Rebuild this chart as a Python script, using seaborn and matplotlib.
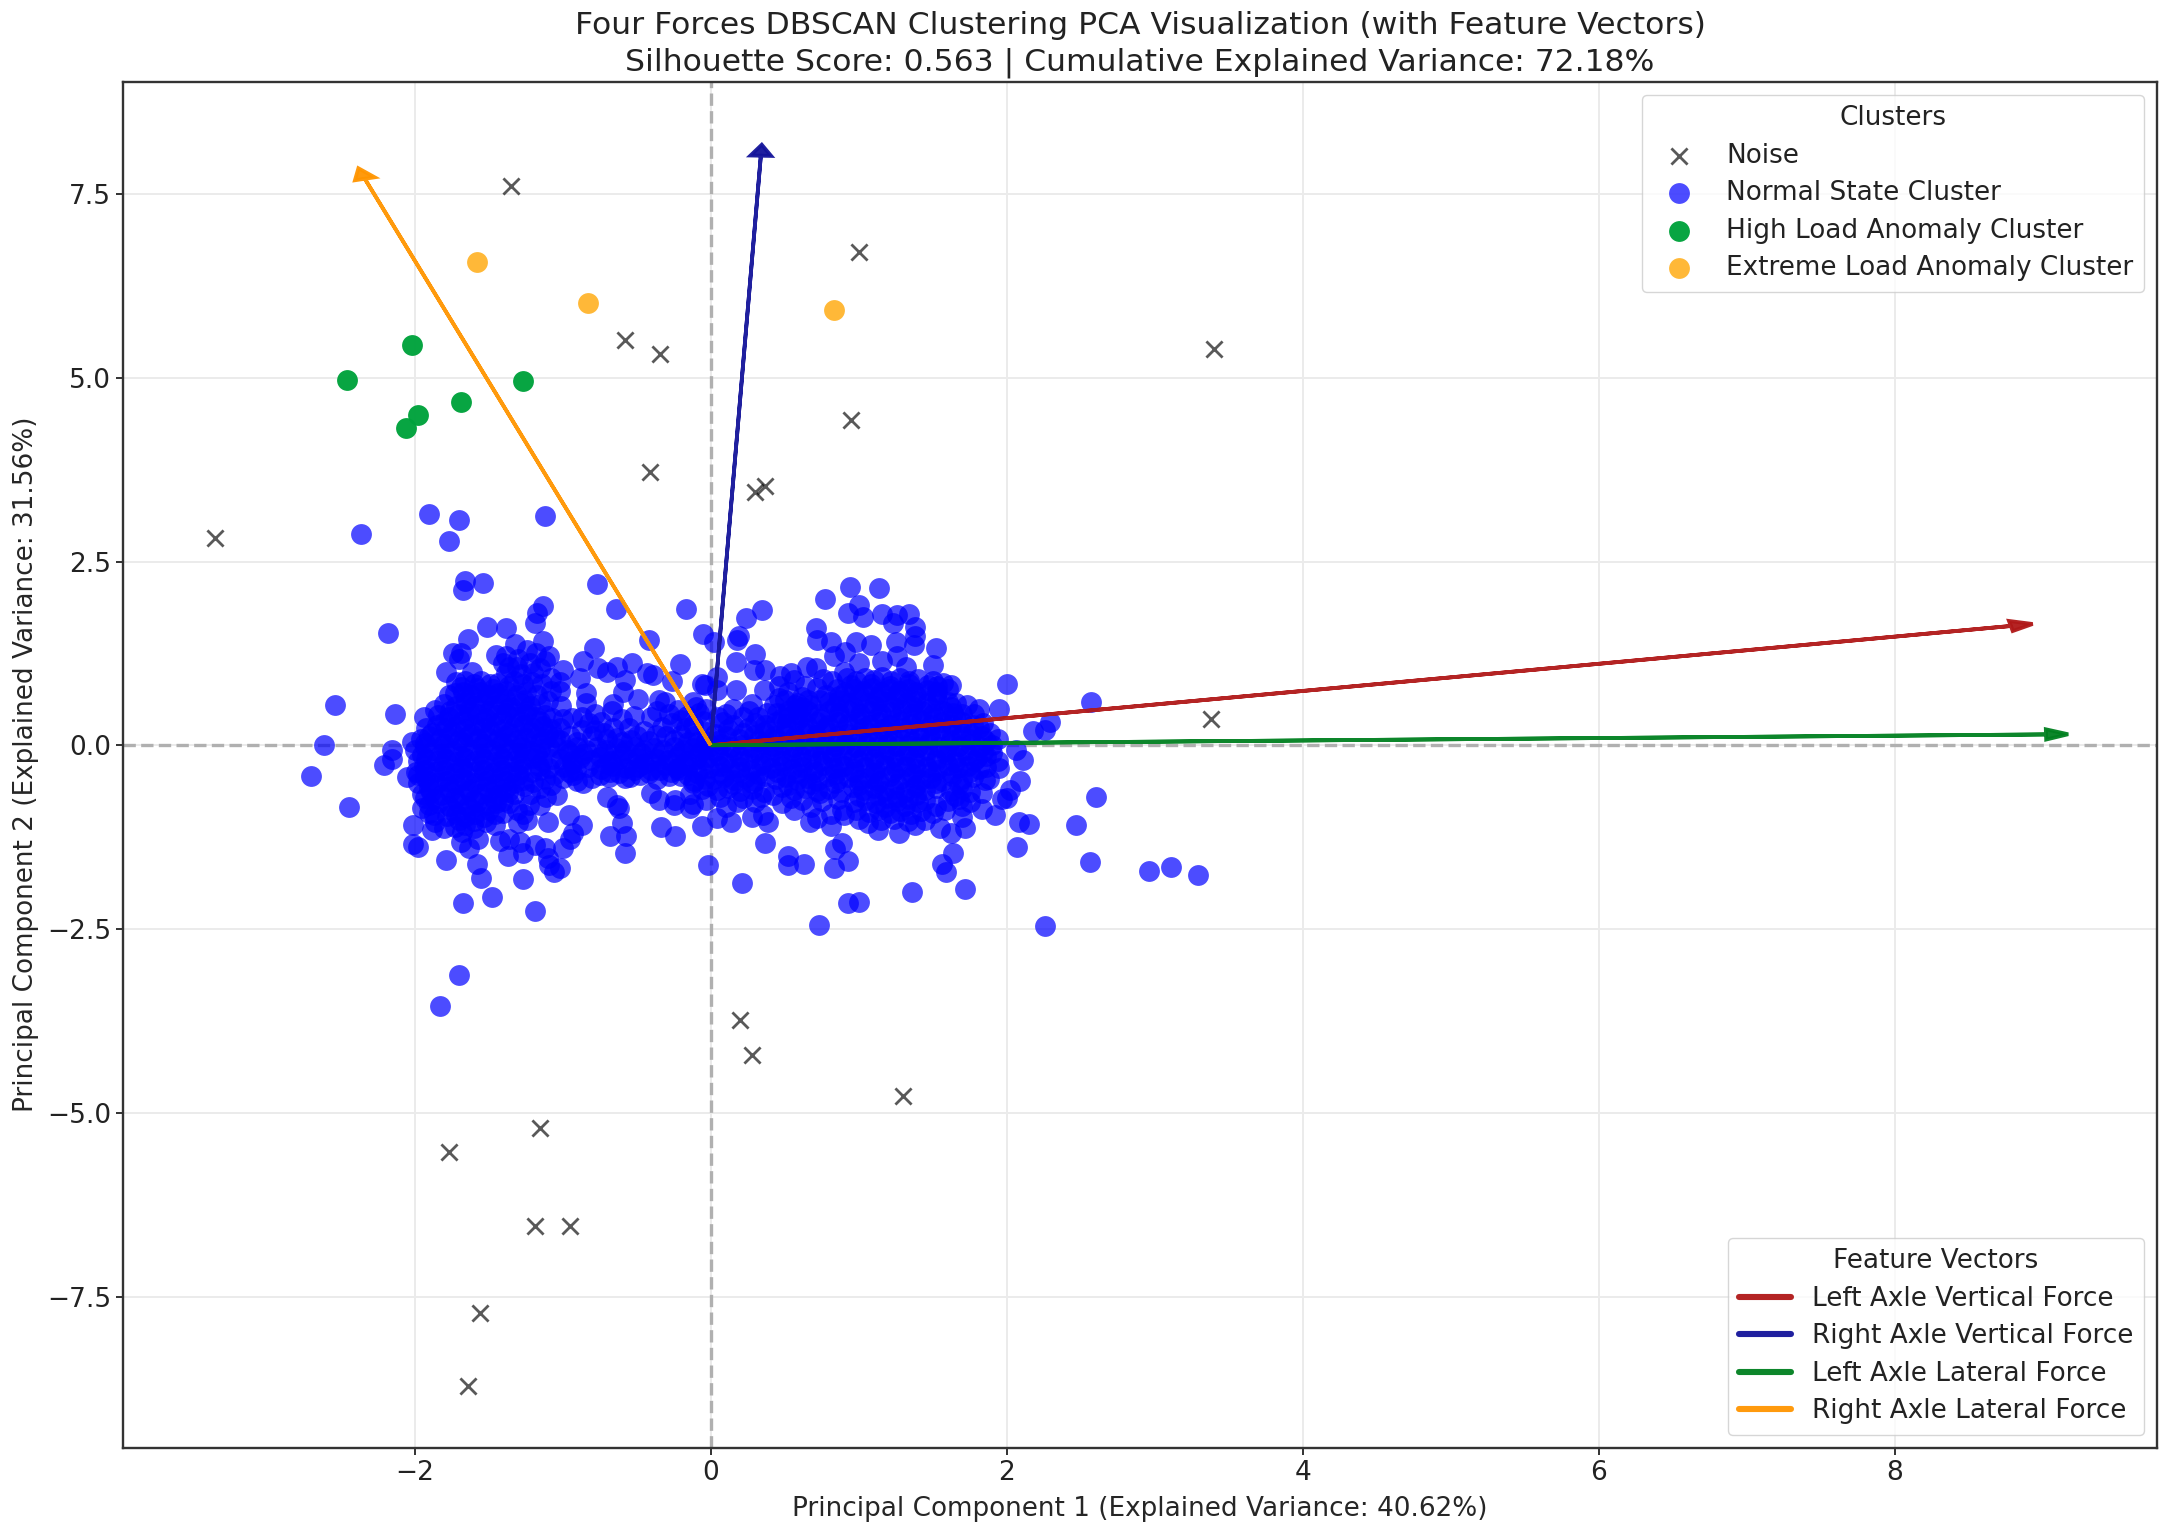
import matplotlib
matplotlib.use("Agg")
import matplotlib.pyplot as plt
from matplotlib.lines import Line2D
import numpy as np
import seaborn as sns

# Values (PC1, PC2).
noise_points = [
    (-3.35, 2.82), (-1.35, 7.61), (1.00, 6.71), (-0.58, 5.51), (-0.345, 5.32), (0.95, 4.42),
    (3.40, 5.39), (-0.41, 3.72), (0.37, 3.53), (0.30, 3.44), (3.38, 0.36), (0.20, -3.74),
    (0.28, -4.21), (1.30, -4.77), (-1.15, -5.21), (-1.77, -5.53), (-1.19, -6.54), (-0.95, -6.54),
    (-1.56, -7.73), (-1.64, -8.72),
]
high_load_points = [(-2.46, 4.97), (-2.02, 5.45), (-1.27, 4.95), (-1.69, 4.67), (-1.98, 4.49), (-2.06, 4.31)]
extreme_load_points = [(-1.58, 6.58), (-0.83, 6.02), (0.83, 5.92)]

# Normal cluster: scattered points on the left side
normal_left_edge = [
    (-2.36, 2.88), (-1.90, 3.14), (-1.70, 3.07), (-1.77, 2.78), (-1.12, 3.12), (-2.18, 1.53),
    (-1.66, 2.23), (-1.67, 2.11), (-1.54, 2.21), (-0.77, 2.20), (-0.64, 1.85), (-0.17, 1.86),
    (-1.135, 1.89), (-1.175, 1.80), (-1.19, 1.67), (-1.51, 1.61), (-1.38, 1.59), (-1.64, 1.44),
    (-1.74, 1.26), (-1.69, 1.25), (-1.70, 1.18), (-0.42, 1.43), (-0.05, 1.52), (0.02, 1.41),
    (-1.13, 1.42), (-1.32, 1.38), (-0.79, 1.33), (-0.86, 1.15), (-0.21, 1.10), (-2.54, 0.55),
    (-2.13, 0.42), (-2.61, 0.00), (-2.70, -0.42), (-2.44, -0.84), (-2.155, -0.07), (-2.15, -0.18),
    (-2.21, -0.27), (-2.05, -0.43), (-2.02, 0.05), (-1.94, 0.38), (-1.86, 0.48), (-1.79, 0.99),
    (-1.61, 0.99), (-1.77, 0.69), (-1.45, 1.23), (-1.38, 1.21), (-1.09, 1.22), (-1.24, 1.30),
    (-1.18, 1.25), (-1.31, 1.07), (-1.36, 1.07), (-1.00, 1.02), (-1.02, 0.74), (-1.01, 0.53),
    (-0.94, 0.37), (-0.88, 0.91), (-0.76, 1.05), (-0.70, 1.00), (-0.635, 1.07), (-0.53, 1.12),
    (-0.58, 0.89), (-0.59, 0.73), (-0.43, 0.98), (-0.39, 0.96), (-0.26, 0.87), (-0.06, 0.83),
    (-0.49, 0.63), (-0.84, 0.71), (-0.84, 0.57), (-0.66, 0.56), (-0.67, 0.46), (-0.35, 0.62),
    (-0.31, 0.59), (-0.12, 0.59), (-0.22, 0.48), (-0.08, 0.44), (-0.55, 0.23), (-0.50, 0.12),
    (-0.45, 0.19), (-0.74, 0.32), (-0.87, 0.21), (-1.02, 0.23), (-1.07, 0.37), (-0.33, 0.25),
    (-0.26, 0.30), (-0.17, 0.23), (-0.30, 0.12), (-0.20, 0.35), (-0.12, 0.28), (-0.05, 0.33),
    (-0.03, 0.18), (-0.11, 0.12), (-0.87, 0.38), (-0.80, 0.12), (-0.70, 0.08), (-0.63, 0.10),
    (-0.70, -0.70), (-0.635, -0.81), (-0.62, -0.86), (-0.60, -1.06), (-0.68, -1.24), (-0.57, -1.24),
    (-0.58, -1.47), (-0.40, -0.65), (-0.35, -0.74), (-0.25, -0.81), (-0.24, -0.74), (-0.14, -0.86),
    (-0.12, -0.80), (-0.335, -1.11), (-0.24, -1.24), (-0.06, -1.10), (-0.02, -1.63), (-0.69, -0.43),
    (-0.545, -0.43), (-0.34, -0.34), (-0.27, -0.36), (-0.86, -0.52), (-0.09, -0.38), (-1.04, -0.68),
    (-1.11, -0.70), (-1.15, -0.81), (-1.23, -0.81), (-1.27, -0.93), (-1.24, -1.02), (-1.30, -1.06),
    (-1.10, -1.05), (-0.955, -0.95), (-0.87, -1.09), (-0.93, -1.20), (-0.95, -1.27), (-1.42, -1.30),
    (-1.36, -1.27), (-1.29, -1.31), (-1.37, -1.51), (-1.27, -1.46), (-1.19, -1.36), (-1.12, -1.40),
    (-1.10, -1.54), (-1.09, -1.63), (-1.02, -1.67), (-1.06, -1.72), (-1.00, -1.40), (-1.27, -1.82),
    (-1.79, -1.56), (-1.58, -1.61), (-1.55, -1.81), (-1.67, -2.15), (-1.48, -2.06), (-1.19, -2.26),
    (-1.57, -1.27), (-1.69, -1.31), (-1.63, -1.40), (-2.01, -1.09), (-2.01, -1.34), (-1.98, -1.39),
    (-1.885, -1.15), (-1.70, -3.12), (-1.83, -3.55), (-1.06, -0.40), (-1.00, -0.45), (-0.93, -0.40),
    (-0.80, -0.45), (-0.62, -0.38), (-0.48, -0.40), (-0.20, -0.42), (-0.03, -0.75), (-0.02, -0.55),
]

# Normal cluster: scattered points on the right side
normal_right_edge = [
    (0.94, 2.15), (1.14, 2.14), (0.77, 1.99), (0.345, 1.84), (0.24, 1.73), (1.00, 1.91),
    (0.93, 1.80), (1.03, 1.75), (1.16, 1.79), (1.26, 1.77), (1.34, 1.79), (1.23, 1.66),
    (1.38, 1.61), (1.38, 1.48), (1.37, 1.37), (1.52, 1.33), (1.50, 1.09), (1.25, 1.41),
    (1.08, 1.37), (0.98, 1.41), (0.71, 1.59), (0.72, 1.43), (0.81, 1.41), (0.835, 1.21),
    (0.91, 1.27), (0.19, 1.48), (0.175, 1.43), (0.30, 1.24), (0.17, 1.13),
    (0.29, 1.03), (0.37, 1.02), (0.17, 0.75), (0.36, 0.75), (0.04, 0.93), (-0.04, 0.82),
    (0.04, 0.75), (0.47, 0.94), (0.54, 0.98), (0.56, 0.89), (0.65, 1.07), (0.71, 1.05),
    (0.64, 0.80), (0.72, 0.78), (0.90, 1.00), (1.00, 1.12), (1.16, 1.14), (1.26, 1.21),
    (1.32, 1.07), (0.15, 0.50), (0.22, 0.39), (0.46, 0.64), (0.43, 0.55), (0.57, 0.55),
    (0.38, 0.44), (1.62, 0.82), (1.53, 0.80), (1.73, 0.55), (1.81, 0.50), (1.95, 0.50),
    (2.00, 0.83), (2.57, 0.585), (2.29, 0.31), (2.26, 0.21), (2.18, 0.19), (2.06, -0.06),
    (2.11, -0.20), (1.95, -0.31), (1.94, -0.22), (2.09, -0.48), (2.02, -0.61), (2.00, -0.72),
    (1.97, -0.73), (1.83, -0.65), (1.83, -0.87), (1.92, -0.95), (2.08, -1.04), (2.15, -1.07),
    (2.47, -1.09), (2.60, -0.71), (2.07, -1.38), (2.56, -1.59), (2.96, -1.71), (3.11, -1.65),
    (3.29, -1.77), (2.26, -2.46), (1.72, -1.96), (1.36, -2.00), (1.00, -2.13), (0.93, -2.14),
    (0.73, -2.45), (0.21, -1.87), (1.635, -1.47), (1.56, -1.61), (1.59, -1.72),
    (1.62, -1.20), (1.55, -1.13), (1.72, -1.13), (1.70, -0.97), (1.70, -0.83), (0.885, -1.33),
    (0.84, -1.41), (0.93, -1.58), (0.83, -1.67), (0.63, -1.61), (0.52, -1.51), (0.525, -1.63),
    (0.37, -1.33), (1.27, -1.20), (1.13, -1.15), (1.065, -1.06), (1.38, -1.08), (1.45, -1.02),
    (0.81, -1.10), (0.67, -1.04), (0.72, -0.99), (0.81, -0.93), (0.885, -0.88), (0.56, -0.88),
    (0.355, -0.95), (0.39, -1.04), (0.28, -0.97), (0.14, -1.04), (0.04, -0.99),
    (0.42, -0.68), (0.54, -0.72), (0.74, -0.65), (0.30, -0.77), (0.18, -0.77), (0.06, -0.70),
]

# Normal cluster: dense core around PC1 = -1.5
normal_left_core = [
    (-1.72, 0.86), (-1.66, 0.88), (-1.60, 0.84), (-1.55, 0.87), (-1.49, 0.83), (-1.44, 0.85),
    (-1.33, 0.88), (-1.27, 0.83), (-1.21, 0.86), (-1.73, 0.71), (-1.67, 0.73), (-1.62, 0.68),
    (-1.56, 0.72), (-1.50, 0.69), (-1.44, 0.71), (-1.38, 0.74), (-1.31, 0.69), (-1.25, 0.72),
    (-1.17, 0.68), (-1.80, 0.56), (-1.72, 0.53), (-1.66, 0.57), (-1.60, 0.54), (-1.54, 0.58),
    (-1.47, 0.53), (-1.41, 0.56), (-1.35, 0.52), (-1.28, 0.57), (-1.22, 0.54), (-1.15, 0.56),
    (-1.84, 0.41), (-1.77, 0.38), (-1.71, 0.43), (-1.64, 0.39), (-1.58, 0.42), (-1.52, 0.37),
    (-1.45, 0.41), (-1.38, 0.44), (-1.32, 0.38), (-1.25, 0.42), (-1.18, 0.39), (-1.12, 0.41),
    (-1.92, 0.24), (-1.85, 0.27), (-1.79, 0.23), (-1.72, 0.26), (-1.66, 0.22), (-1.59, 0.28),
    (-1.53, 0.24), (-1.46, 0.27), (-1.40, 0.22), (-1.33, 0.25), (-1.27, 0.28), (-1.20, 0.23),
    (-1.13, 0.26), (-1.08, 0.22), (-1.96, 0.09), (-1.90, 0.12), (-1.83, 0.08), (-1.77, 0.11),
    (-1.70, 0.07), (-1.64, 0.13), (-1.57, 0.09), (-1.51, 0.11), (-1.44, 0.08), (-1.38, 0.12),
    (-1.31, 0.07), (-1.25, 0.10), (-1.18, 0.13), (-1.12, 0.08), (-1.05, 0.11), (-2.00, -0.06),
    (-1.93, -0.03), (-1.87, -0.07), (-1.80, -0.04), (-1.74, -0.08), (-1.67, -0.03), (-1.61, -0.06),
    (-1.54, -0.02), (-1.48, -0.07), (-1.41, -0.04), (-1.35, -0.06), (-1.28, -0.03), (-1.22, -0.08),
    (-1.15, -0.05), (-1.09, -0.03), (-1.98, -0.21), (-1.92, -0.18), (-1.85, -0.22), (-1.79, -0.19),
    (-1.72, -0.23), (-1.66, -0.17), (-1.59, -0.21), (-1.53, -0.19), (-1.46, -0.23), (-1.40, -0.18),
    (-1.33, -0.22), (-1.27, -0.20), (-1.20, -0.17), (-1.14, -0.22), (-1.07, -0.19), (-1.99, -0.36),
    (-1.93, -0.33), (-1.86, -0.37), (-1.80, -0.34), (-1.73, -0.38), (-1.67, -0.32), (-1.60, -0.36),
    (-1.54, -0.34), (-1.47, -0.38), (-1.41, -0.33), (-1.34, -0.36), (-1.28, -0.32), (-1.21, -0.37),
    (-1.15, -0.34), (-1.09, -0.31), (-1.98, -0.51), (-1.91, -0.48), (-1.85, -0.52), (-1.78, -0.49),
    (-1.72, -0.53), (-1.65, -0.47), (-1.59, -0.51), (-1.52, -0.49), (-1.46, -0.53), (-1.39, -0.48),
    (-1.33, -0.51), (-1.27, -0.47), (-1.95, -0.66), (-1.89, -0.63), (-1.82, -0.67), (-1.76, -0.64),
    (-1.69, -0.68), (-1.63, -0.62), (-1.56, -0.66), (-1.50, -0.64), (-1.44, -0.68), (-1.37, -0.63),
    (-1.33, -0.66), (-1.90, -0.81), (-1.84, -0.78), (-1.77, -0.82), (-1.71, -0.79), (-1.64, -0.83),
    (-1.58, -0.77), (-1.51, -0.81), (-1.45, -0.79), (-1.40, -0.76), (-1.87, -0.95), (-1.78, -0.96),
    (-1.72, -0.93), (-1.66, -0.97), (-1.59, -0.94), (-1.53, -0.98), (-1.46, -0.93), (-1.73, -1.11),
    (-1.66, -1.08), (-1.60, -1.12), (-1.68, -1.18),
]

# Normal cluster: band joining the two dense groups
normal_middle_band = [
    (-1.03, -0.04), (-0.97, -0.07), (-0.90, -0.03), (-0.84, -0.06), (-0.77, -0.02), (-0.71, -0.07),
    (-0.64, -0.04), (-0.58, -0.06), (-0.51, -0.03), (-0.45, -0.07), (-0.38, -0.04), (-0.32, -0.06),
    (-0.25, -0.02), (-0.19, -0.07), (-0.12, -0.04), (-0.06, -0.06), (-1.01, -0.18), (-0.94, -0.21),
    (-0.88, -0.17), (-0.81, -0.20), (-0.75, -0.16), (-0.68, -0.21), (-0.62, -0.18), (-0.55, -0.20),
    (-0.49, -0.17), (-0.42, -0.21), (-0.36, -0.18), (-0.29, -0.20), (-0.23, -0.16), (-0.16, -0.21),
    (-0.10, -0.18), (-0.04, -0.20), (-0.99, -0.30), (-0.91, -0.33), (-0.83, -0.29), (-0.74, -0.32),
    (-0.66, -0.28), (-0.57, -0.31), (-0.49, -0.29), (-0.40, -0.33), (-0.31, -0.27), (-0.23, -0.31),
    (-0.15, -0.28), (-0.07, -0.32), (-0.04, -0.46), (-0.11, -0.49), (-0.03, 0.06), (-0.09, 0.04),
    (-0.96, -0.11), (-0.86, -0.12), (-0.73, -0.10), (-0.60, -0.12), (-0.47, -0.11), (-0.34, -0.13),
    (-0.21, -0.10), (-0.08, -0.12), (-0.94, -0.26), (-0.70, -0.25), (-0.45, -0.26), (-0.19, -0.25),
]

# Normal cluster: dense core around PC1 = 1
normal_right_core = [
    (0.92, 0.91), (0.98, 0.88), (1.04, 0.92), (1.10, 0.89), (1.16, 0.93), (1.22, 0.87),
    (1.28, 0.91), (1.34, 0.88), (1.40, 0.90), (1.50, 0.88), (1.57, 0.85), (0.85, 0.76),
    (0.91, 0.73), (0.97, 0.77), (1.03, 0.74), (1.09, 0.78), (1.15, 0.72), (1.21, 0.76),
    (1.27, 0.74), (1.33, 0.77), (1.39, 0.73), (1.46, 0.75), (1.53, 0.72), (1.60, 0.76),
    (0.50, 0.61), (0.58, 0.58), (0.66, 0.62), (0.80, 0.59), (0.87, 0.62), (0.93, 0.58),
    (1.00, 0.61), (1.06, 0.57), (1.13, 0.62), (1.19, 0.59), (1.26, 0.63), (1.32, 0.57),
    (1.39, 0.60), (1.46, 0.58), (1.53, 0.62), (1.60, 0.59), (1.66, 0.57), (0.45, 0.44),
    (0.52, 0.47), (0.59, 0.43), (0.66, 0.46), (0.73, 0.42), (0.80, 0.47), (0.87, 0.44),
    (0.94, 0.46), (1.01, 0.43), (1.08, 0.47), (1.15, 0.42), (1.22, 0.45), (1.29, 0.48),
    (1.36, 0.43), (1.43, 0.46), (1.50, 0.42), (1.57, 0.47), (1.64, 0.44), (1.70, 0.42),
    (0.08, 0.31), (0.15, 0.28), (0.30, 0.30), (0.37, 0.27), (0.44, 0.32), (0.51, 0.29),
    (0.58, 0.33), (0.65, 0.27), (0.72, 0.31), (0.79, 0.28), (0.86, 0.32), (0.93, 0.29),
    (1.00, 0.33), (1.07, 0.27), (1.14, 0.31), (1.21, 0.28), (1.28, 0.32), (1.35, 0.29),
    (1.42, 0.33), (1.49, 0.27), (1.56, 0.31), (1.63, 0.28), (1.70, 0.32), (1.77, 0.27),
    (1.84, 0.30), (0.03, 0.16), (0.10, 0.13), (0.22, 0.17), (0.29, 0.14), (0.36, 0.18),
    (0.43, 0.12), (0.50, 0.16), (0.57, 0.13), (0.64, 0.17), (0.71, 0.14), (0.78, 0.18),
    (0.85, 0.12), (0.92, 0.16), (0.99, 0.13), (1.06, 0.17), (1.13, 0.14), (1.20, 0.18),
    (1.27, 0.12), (1.34, 0.16), (1.41, 0.13), (1.48, 0.17), (1.55, 0.14), (1.62, 0.18),
    (1.69, 0.12), (1.76, 0.16), (1.83, 0.13), (1.89, 0.17), (0.00, -0.01), (0.07, 0.02),
    (0.14, -0.02), (0.21, 0.01), (0.28, -0.03), (0.35, 0.02), (0.42, -0.01), (0.49, 0.01),
    (0.56, -0.02), (0.63, 0.02), (0.70, -0.03), (0.77, 0.01), (0.84, -0.01), (0.91, 0.02),
    (0.98, -0.02), (1.05, 0.01), (1.12, -0.03), (1.19, 0.02), (1.26, -0.01), (1.33, 0.01),
    (1.40, -0.02), (1.47, 0.02), (1.54, -0.03), (1.61, 0.01), (1.68, -0.01), (1.75, 0.02),
    (1.82, -0.02), (1.90, 0.01), (-0.02, -0.16), (0.05, -0.13), (0.12, -0.17), (0.19, -0.14),
    (0.26, -0.18), (0.33, -0.12), (0.40, -0.16), (0.47, -0.13), (0.54, -0.17), (0.61, -0.14),
    (0.68, -0.18), (0.75, -0.12), (0.82, -0.16), (0.89, -0.13), (0.96, -0.17), (1.03, -0.14),
    (1.10, -0.18), (1.17, -0.12), (1.24, -0.16), (1.31, -0.13), (1.38, -0.17), (1.45, -0.14),
    (1.52, -0.18), (1.59, -0.12), (1.66, -0.16), (1.73, -0.13), (1.80, -0.17), (1.86, -0.14),
    (-0.01, -0.31), (0.06, -0.28), (0.13, -0.32), (0.20, -0.29), (0.27, -0.33), (0.34, -0.27),
    (0.41, -0.31), (0.48, -0.28), (0.55, -0.32), (0.62, -0.29), (0.69, -0.33), (0.76, -0.27),
    (0.83, -0.31), (0.90, -0.28), (0.97, -0.32), (1.04, -0.29), (1.11, -0.33), (1.18, -0.27),
    (1.25, -0.31), (1.32, -0.28), (1.39, -0.32), (1.46, -0.29), (1.53, -0.33), (1.60, -0.27),
    (1.67, -0.31), (1.74, -0.28), (1.81, -0.32), (1.86, -0.29), (0.02, -0.46), (0.09, -0.43),
    (0.16, -0.47), (0.23, -0.44), (0.30, -0.48), (0.37, -0.42), (0.44, -0.46), (0.51, -0.43),
    (0.58, -0.47), (0.65, -0.44), (0.72, -0.48), (0.79, -0.42), (0.86, -0.46), (0.93, -0.43),
    (1.00, -0.47), (1.07, -0.44), (1.14, -0.48), (1.21, -0.42), (1.28, -0.46), (1.35, -0.43),
    (1.42, -0.47), (1.49, -0.44), (1.56, -0.48), (1.63, -0.42), (1.70, -0.46), (1.77, -0.43),
    (1.85, -0.47), (0.04, -0.61), (0.12, -0.58), (0.20, -0.62), (0.28, -0.59), (0.36, -0.63),
    (0.48, -0.57), (0.56, -0.61), (0.64, -0.58), (0.72, -0.62), (0.80, -0.59), (0.88, -0.63),
    (0.96, -0.57), (1.03, -0.61), (1.10, -0.58), (1.17, -0.62), (1.24, -0.59), (1.31, -0.63),
    (1.38, -0.57), (1.45, -0.61), (1.52, -0.58), (1.62, -0.62), (1.70, -0.59), (1.75, -0.63),
    (0.75, -0.76), (0.86, -0.73), (0.97, -0.77), (1.05, -0.74), (1.12, -0.78), (1.19, -0.72),
    (1.26, -0.76), (1.33, -0.73), (1.40, -0.77), (1.45, -0.74), (1.60, -0.76), (1.68, -0.73),
    (1.75, -0.77), (1.07, -0.91), (1.14, -0.88), (1.21, -0.92), (1.28, -0.89), (1.35, -0.93),
    (1.42, -0.90), (1.15, -1.02), (1.24, -1.00), (1.33, -1.03),
]

# Normal cluster: more points where the two cores are solid blue
normal_core_fill = [
    (-1.40, 1.12), (-1.30, 1.18), (-1.22, 1.12), (-1.15, 1.05), (-1.12, 1.15), (-1.38, 0.98),
    (-1.28, 0.97), (-1.20, 0.98), (-1.69, 0.79), (-1.58, 0.78), (-1.47, 0.77), (-1.36, 0.80),
    (-1.65, 0.62), (-1.52, 0.64), (-1.39, 0.63), (-1.26, 0.61), (-1.76, 0.47), (-1.63, 0.48),
    (-1.50, 0.46), (-1.37, 0.49), (-1.24, 0.47), (-1.80, 0.32), (-1.67, 0.33), (-1.54, 0.31),
    (-1.41, 0.34), (-1.28, 0.32), (-1.15, 0.33), (-1.88, 0.17), (-1.75, 0.18), (-1.62, 0.16),
    (-1.49, 0.19), (-1.36, 0.17), (-1.23, 0.18), (-1.10, 0.16), (-1.93, 0.03), (-1.80, 0.02),
    (-1.67, 0.04), (-1.54, 0.02), (-1.41, 0.03), (-1.28, 0.01), (-1.15, 0.03), (-1.95, -0.13),
    (-1.82, -0.12), (-1.69, -0.14), (-1.56, -0.12), (-1.43, -0.13), (-1.30, -0.11), (-1.17, -0.13),
    (-1.94, -0.28), (-1.81, -0.27), (-1.68, -0.29), (-1.55, -0.27), (-1.42, -0.28), (-1.29, -0.26),
    (-1.16, -0.28), (-1.93, -0.43), (-1.80, -0.42), (-1.67, -0.44), (-1.54, -0.42), (-1.41, -0.43),
    (-1.30, -0.41), (-1.90, -0.58), (-1.77, -0.57), (-1.64, -0.59), (-1.51, -0.57), (-1.38, -0.58),
    (-1.86, -0.73), (-1.73, -0.72), (-1.60, -0.74), (-1.47, -0.72), (-1.75, -0.88), (-1.62, -0.87),
    (-1.50, -0.88), (-1.70, -1.02), (-1.60, -1.03), (-1.52, -1.04),
    (0.95, 0.82), (1.08, 0.83), (1.21, 0.81), (1.34, 0.83), (1.47, 0.82), (0.87, 0.67),
    (1.00, 0.68), (1.13, 0.66), (1.26, 0.69), (1.39, 0.67), (1.52, 0.68), (0.62, 0.52),
    (0.84, 0.53), (0.97, 0.51), (1.10, 0.54), (1.23, 0.52), (1.36, 0.53), (1.49, 0.51),
    (1.62, 0.52), (0.48, 0.37), (0.61, 0.38), (0.74, 0.36), (0.87, 0.39), (1.00, 0.37),
    (1.13, 0.38), (1.26, 0.36), (1.39, 0.39), (1.52, 0.37), (1.65, 0.38), (0.12, 0.22),
    (0.25, 0.23), (0.38, 0.21), (0.51, 0.24), (0.64, 0.22), (0.77, 0.23), (0.90, 0.21),
    (1.03, 0.24), (1.16, 0.22), (1.29, 0.23), (1.42, 0.21), (1.55, 0.24), (1.68, 0.22),
    (1.81, 0.23), (0.06, 0.07), (0.19, 0.08), (0.32, 0.06), (0.45, 0.09), (0.58, 0.07),
    (0.71, 0.08), (0.84, 0.06), (0.97, 0.09), (1.10, 0.07), (1.23, 0.08), (1.36, 0.06),
    (1.49, 0.09), (1.62, 0.07), (1.75, 0.08), (1.86, 0.06), (0.03, -0.08), (0.16, -0.07),
    (0.29, -0.09), (0.42, -0.06), (0.55, -0.08), (0.68, -0.07), (0.81, -0.09), (0.94, -0.06),
    (1.07, -0.08), (1.20, -0.07), (1.33, -0.09), (1.46, -0.06), (1.59, -0.08), (1.72, -0.07),
    (1.84, -0.09), (0.09, -0.23), (0.22, -0.22), (0.35, -0.24), (0.48, -0.21), (0.61, -0.23),
    (0.74, -0.22), (0.87, -0.24), (1.00, -0.21), (1.13, -0.23), (1.26, -0.22), (1.39, -0.24),
    (1.52, -0.21), (1.65, -0.23), (1.78, -0.22), (0.06, -0.38), (0.19, -0.37), (0.32, -0.39),
    (0.45, -0.36), (0.58, -0.38), (0.71, -0.37), (0.84, -0.39), (0.97, -0.36), (1.10, -0.38),
    (1.23, -0.37), (1.36, -0.39), (1.49, -0.36), (1.62, -0.38), (1.75, -0.37), (0.15, -0.53),
    (0.28, -0.52), (0.52, -0.54), (0.68, -0.53), (0.84, -0.52), (1.00, -0.54), (1.13, -0.52),
    (1.26, -0.53), (1.39, -0.54), (1.52, -0.52), (1.68, -0.53), (1.00, -0.69), (1.13, -0.68),
    (1.26, -0.70), (1.39, -0.68), (1.65, -0.69), (1.18, -0.84), (1.31, -0.83),
]

# Normal cluster: points around the cores and along the band
normal_core_margin = [
    (-1.02, 0.07), (-0.95, 0.12), (-0.90, 0.05), (-0.78, 0.21), (-0.72, 0.17), (-0.66, 0.24),
    (-0.60, 0.05), (-0.54, 0.07), (-0.42, 0.06), (-0.37, 0.14), (-0.25, 0.07), (-0.20, 0.14),
    (-0.15, 0.05), (-1.00, 0.36), (-0.82, 0.30), (-0.78, 0.42), (-0.60, 0.36), (-0.52, 0.40),
    (-0.40, 0.38), (-0.36, 0.46), (-0.28, 0.42), (-0.16, 0.40), (-0.10, 0.52), (-0.03, 0.50),
    (-1.10, 0.60), (-1.08, 0.74), (-1.14, 0.84), (-1.08, 0.92), (-1.02, 0.86), (-1.98, -0.40),
    (-1.93, -0.72), (-1.95, -0.85), (-1.90, -0.92), (-1.86, -1.05), (-1.80, -1.12), (-1.46, -1.08),
    (-1.26, -0.56), (-1.20, -0.50), (-1.22, -0.66), (-1.12, -0.46), (-1.15, -0.58), (-1.08, -0.54),
    (-1.36, -0.78), (-1.31, -0.88), (-1.40, -0.92), (-0.96, -0.36), (-0.90, -0.48), (-0.75, -0.40),
    (-0.68, -0.36), (-0.58, -0.44), (-0.52, -0.34), (-0.42, -0.38), (-0.36, -0.46), (-0.28, -0.42),
    (-0.22, -0.34), (-0.15, -0.40), (-0.12, -0.52), (-0.06, -0.60), (-0.14, -0.66), (0.10, 0.42),
    (0.05, 0.38), (0.26, 0.46), (0.32, 0.38), (0.28, 0.56), (0.52, 0.38), (0.58, 0.50),
    (0.68, 0.55), (0.74, 0.62), (0.62, 0.66), (0.52, 0.72), (0.46, 0.80), (0.78, 0.68),
    (0.82, 0.88), (0.76, 0.90), (0.10, -0.84), (0.22, -0.72), (0.34, -0.70), (0.48, -0.78),
    (0.62, -0.74), (0.68, -0.84), (0.90, -0.95), (0.98, -0.88), (1.00, -1.00), (1.50, -0.92),
    (1.58, -0.88), (1.52, -0.82), (1.88, -0.46), (1.90, -0.10), (1.94, 0.08), (1.78, 0.42),
]

cluster_labels = ["Noise", "Normal State Cluster", "High Load Anomaly Cluster", "Extreme Load Anomaly Cluster"]

feature_names = ["Left Axle Vertical Force", "Right Axle Vertical Force", "Left Axle Lateral Force", "Right Axle Lateral Force"]
feature_pc1 = [8.93, 0.345, 9.17, -2.38]
feature_pc2 = [1.65, 8.17, 0.15, 7.85]
feature_colors = ["#b01818", "#14149a", "#00801f", "#ff9500"]

title = ("Four Forces DBSCAN Clustering PCA Visualization (with Feature Vectors)\n"
         "Silhouette Score: 0.563 | Cumulative Explained Variance: 72.18%")
x_label = "Principal Component 1 (Explained Variance: 40.62%)"
y_label = "Principal Component 2 (Explained Variance: 31.56%)"

sns.set_theme(style="ticks")
plt.rcParams["font.family"] = ["DejaVu Sans"]
plt.rcParams["text.color"] = "#222222"

fig = plt.figure(figsize=(21.64, 15.31), dpi=100)
ax = fig.add_axes([123 / 2164, 1 - 1448 / 1531, (2157 - 123) / 2164, (1448 - 81.5) / 1531])

ax.grid(True, color="#ebebeb", linewidth=1.4, zorder=0)
ax.set_axisbelow(True)
ax.axhline(0, color="#b0b0b0", linestyle="--", linewidth=2.4, zorder=1)
ax.axvline(0, color="#b0b0b0", linestyle="--", linewidth=2.4, zorder=1)

normal_points = np.array(normal_left_edge + normal_right_edge + normal_left_core + normal_middle_band
                         + normal_right_core + normal_core_fill + normal_core_margin)
noise = np.array(noise_points)
high = np.array(high_load_points)
extreme = np.array(extreme_load_points)

sns.scatterplot(x=noise[:, 0], y=noise[:, 1], color="black", marker="x", s=135, linewidth=2.0, alpha=0.65,
                label=cluster_labels[0], ax=ax, zorder=2)
sns.scatterplot(x=normal_points[:, 0], y=normal_points[:, 1], color="blue", s=225, linewidth=0, alpha=0.7,
                label=cluster_labels[1], ax=ax, zorder=2)
sns.scatterplot(x=high[:, 0], y=high[:, 1], color="#00a23c", s=225, linewidth=0, alpha=0.97,
                label=cluster_labels[2], ax=ax, zorder=2)
sns.scatterplot(x=extreme[:, 0], y=extreme[:, 1], color="#ffa500", s=225, linewidth=0, alpha=0.78,
                label=cluster_labels[3], ax=ax, zorder=2)

# Feature loadings as arrows from the origin.
for dx, dy, col in zip(feature_pc1, feature_pc2, feature_colors):
    ax.arrow(0, 0, dx, dy, color=col, width=0.0, linewidth=2.7, head_width=0.14, head_length=0.15,
             length_includes_head=True, alpha=0.95, zorder=3)

ax.set_xlim(-3.97, 9.77)
ax.set_ylim(-9.56, 9.03)
ax.set_xticks([-2, 0, 2, 4, 6, 8])
ax.set_yticks([-7.5, -5.0, -2.5, 0.0, 2.5, 5.0, 7.5])
ax.tick_params(labelsize=19, length=5, width=1.3, colors="#222222")
ax.set_xlabel(x_label, fontsize=18.9, labelpad=7)
ax.set_ylabel(y_label, fontsize=18.9, labelpad=6)
ax.set_title(title, fontsize=22.6, pad=8, color="#222222", linespacing=1.3)

for spine in ax.spines.values():
    spine.set_visible(True)
    spine.set_color("#333333")
    spine.set_linewidth(1.7)

cluster_legend = ax.legend(title="Clusters", loc="upper right", fontsize=18.9, title_fontsize=18.9,
                           framealpha=0.8, labelspacing=0.44)
ax.add_artist(cluster_legend)

feature_handles = [Line2D([0], [0], color=c, linewidth=4.4, alpha=0.95) for c in feature_colors]
ax.legend(feature_handles, feature_names, title="Feature Vectors", loc="lower right", fontsize=18.9,
          title_fontsize=18.9, framealpha=0.8, labelspacing=0.44)

fig.savefig("out.png", dpi=100)
